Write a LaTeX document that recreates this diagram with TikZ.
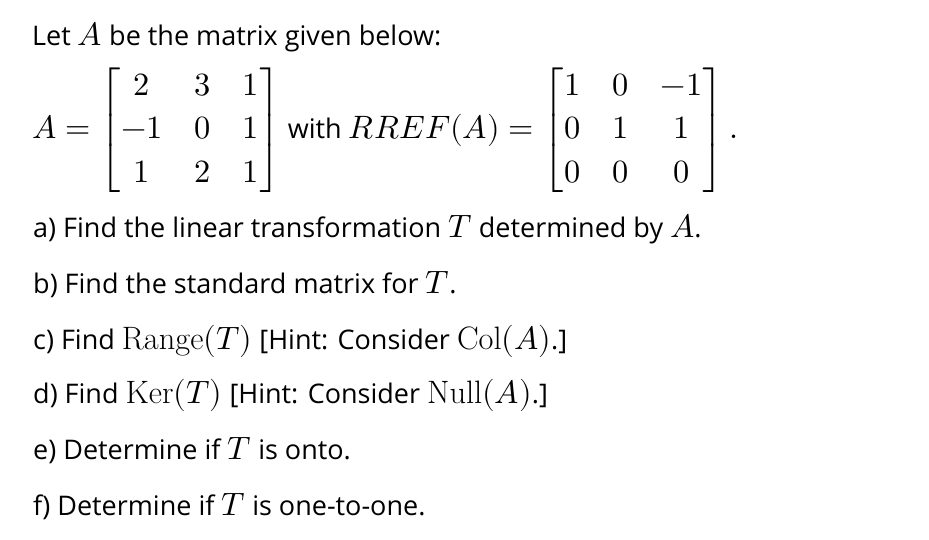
\documentclass[tikz,border=0pt]{standalone}
\usepackage{amsmath}
\usepackage{fontspec}
\setmainfont{Open Sans}
\usepackage{unicode-math}
\setmathfont{Latin Modern Math}[Scale=1.2]
\setmathrm{Latin Modern Roman}[Scale=1.2]
\tikzset{txt/.style={anchor=base west,inner sep=0pt,font=\fontsize{27}{31}\selectfont}}
\begin{document}
\begin{tikzpicture}[x=1pt,y=-1pt]
\useasboundingbox (0,0) rectangle (929,539);
\node[txt] (l1) at (32,45) {Let $A$ be the matrix given below:};
\node[anchor=west,inner sep=0pt,font=\fontsize{27}{31}\selectfont] (m) at (32,130) {\renewcommand{\arraystretch}{1.4}\setlength{\arraycolsep}{16pt}$A=\begin{bmatrix}2&3&1\\-1&0&1\\1&2&1\end{bmatrix}$ with $RREF(A)=\begin{bmatrix}1&0&-1\\0&1&1\\0&0&0\end{bmatrix}.$};
\node[txt] (a) at (33,237) {a) Find the linear transformation $T$ determined by $A$.};
\node[txt] (b) at (33,293) {b) Find the standard matrix for $T$.};
\node[txt] (c) at (33,349) {c) Find $\mathrm{Range}(T)$ [Hint: Consider $\mathrm{Col}(A)$.]};
\node[txt] (d) at (33,403) {d) Find $\mathrm{Ker}(T)$ [Hint: Consider $\mathrm{Null}(A)$.]};
\node[txt] (e) at (33,459) {e) Determine if $T$ is onto.};
\node[txt] (f) at (33,515) {f) Determine if $T$ is one-to-one.};
\end{tikzpicture}
\end{document}
